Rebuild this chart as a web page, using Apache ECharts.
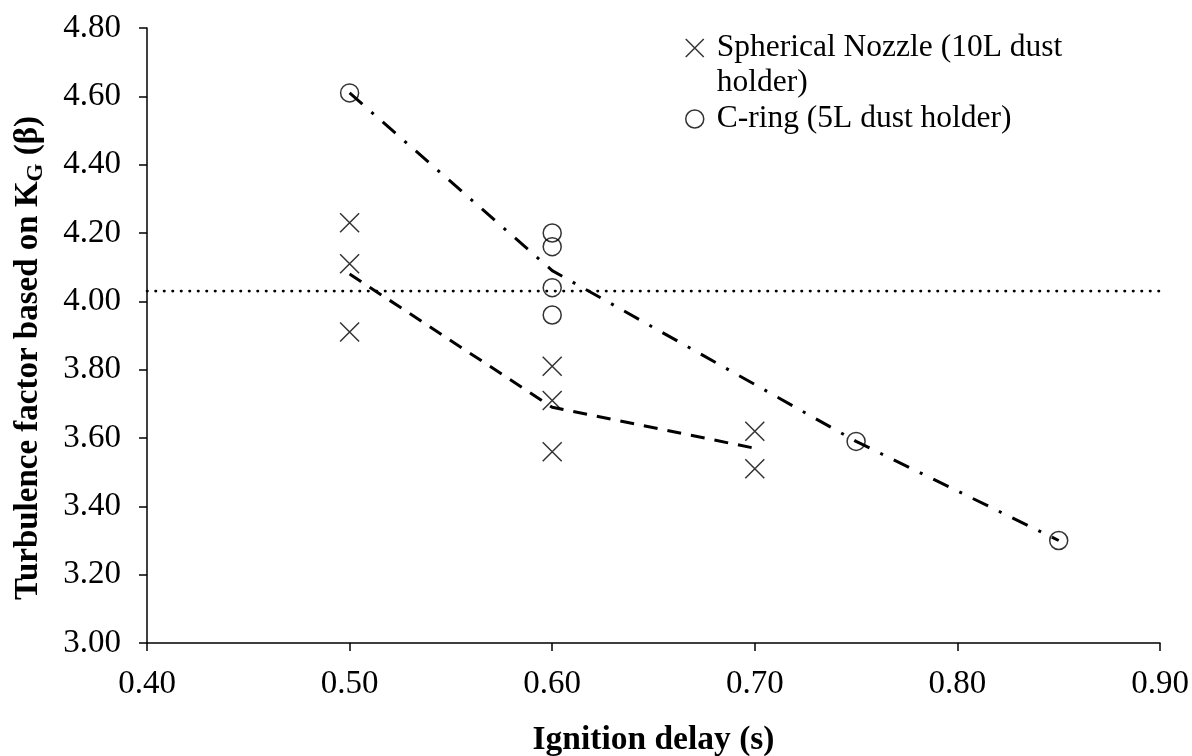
<!DOCTYPE html>
<html>
<head>
<meta charset="utf-8">
<script src="https://cdn.jsdelivr.net/npm/echarts@6/dist/echarts.min.js"></script>
<style>
html,body{margin:0;padding:0;background:#fff;}
#chart{width:1192px;height:756px;}
</style>
</head>
<body>
<div id="chart"></div>
<script>
// ---- data ----
var nozzleName = 'Spherical Nozzle (10L dust\nholder)';
var cringName = 'C-ring (5L dust holder)';
var nozzlePoints = [[0.50,4.23],[0.50,4.11],[0.50,3.91],[0.60,3.81],[0.60,3.71],[0.60,3.56],[0.70,3.62],[0.70,3.51]];
var cringPoints = [[0.50,4.61],[0.60,4.20],[0.60,4.16],[0.60,4.04],[0.60,3.96],[0.75,3.59],[0.85,3.30]];
var nozzleTrend = [[0.50,4.08],[0.60,3.69],[0.70,3.57]];
var cringTrend = [[0.50,4.61],[0.60,4.09],[0.75,3.59],[0.85,3.30]];
var refLine = [[0.40,4.03],[0.90,4.03]];
var xTicks = {min:0.40, max:0.90, interval:0.10};
var yTicks = {min:3.00, max:4.80, interval:0.20};

var FONT = '"Liberation Serif", "Times New Roman", serif';
var crossPath = 'path://M0,0L10,10M10,0L0,10';

var chart = echarts.init(document.getElementById('chart'));
chart.setOption({
  animation:false,
  backgroundColor:'#fff',
  grid:{left:147, right:32, top:28, bottom:113, containLabel:false, outerBoundsMode:'none'},
  legend:[
    {
      data:[{name:nozzleName, icon:crossPath, itemStyle:{color:'transparent', borderColor:'#000', borderWidth:1.5}}],
      formatter:function(n){ return ' \n' + n; },
      left:685, top:-4.5, padding:0, orient:'vertical',
      itemWidth:34, itemHeight:18, selectedMode:false,
      textStyle:{fontFamily:FONT, fontSize:31.5, color:'#000', lineHeight:35}
    },
    {
      data:[{name:cringName, icon:'circle', itemStyle:{color:'transparent', borderColor:'#000', borderWidth:1.5}}],
      left:685, top:101.5, padding:0, orient:'vertical',
      itemWidth:34, itemHeight:18, selectedMode:false,
      textStyle:{fontFamily:FONT, fontSize:31.5, color:'#000', lineHeight:35}
    }
  ],
  xAxis:{
    type:'value', min:xTicks.min, max:xTicks.max, interval:xTicks.interval,
    name:'Ignition delay (s)', nameLocation:'middle', nameGap:80,
    nameTextStyle:{fontFamily:FONT, fontSize:33.5, fontWeight:'bold', color:'#000'},
    axisLine:{show:true, onZero:false, lineStyle:{color:'#000', width:1.5}},
    axisTick:{show:true, inside:false, length:8, lineStyle:{color:'#000', width:1.5}},
    axisLabel:{margin:25, fontFamily:FONT, fontSize:33, color:'#000', formatter:function(v){return v.toFixed(2);}},
    splitLine:{show:false}
  },
  yAxis:{
    type:'value', min:yTicks.min, max:yTicks.max, interval:yTicks.interval,
    name:'{a|Turbulence factor based on K}{s|G}{a| (β)}', nameLocation:'middle', nameGap:99, nameRotate:90,
    nameTextStyle:{
      color:'#000', padding:[0,45,0,0],
      rich:{
        a:{fontFamily:FONT, fontSize:33, fontWeight:'bold', color:'#000'},
        s:{fontFamily:FONT, fontSize:23, fontWeight:'bold', color:'#000', padding:[16,0,0,0]}
      }
    },
    axisLine:{show:true, lineStyle:{color:'#000', width:1.5}},
    axisTick:{show:true, inside:false, length:8, lineStyle:{color:'#000', width:1.5}},
    axisLabel:{margin:26, fontFamily:FONT, fontSize:33, color:'#000', formatter:function(v){return v.toFixed(2);}},
    splitLine:{show:false}
  },
  series:[
    {
      name:nozzleName, type:'scatter', data:nozzlePoints, symbol:crossPath, symbolSize:19,
      itemStyle:{color:'transparent', borderColor:'#000', borderWidth:1.5}, z:3
    },
    {
      name:cringName, type:'scatter', data:cringPoints, symbol:'circle', symbolSize:18,
      itemStyle:{color:'transparent', borderColor:'#000', borderWidth:1.5}, z:3
    },
    {
      name:'nozzleTrend', type:'line', data:nozzleTrend, showSymbol:false, symbol:'none',
      lineStyle:{color:'#000', width:3, type:[14,10]}, z:4, silent:true
    },
    {
      name:'cringTrend', type:'line', data:cringTrend, showSymbol:false, symbol:'none',
      lineStyle:{color:'#000', width:3, type:[17,12,3,12]}, z:4, silent:true
    },
    {
      name:'ref', type:'line', data:refLine, showSymbol:false, symbol:'none',
      lineStyle:{color:'#000', width:2.6, type:[0.5,8], cap:'round'}, z:2, silent:true
    }
  ]
});
</script>
</body>
</html>
